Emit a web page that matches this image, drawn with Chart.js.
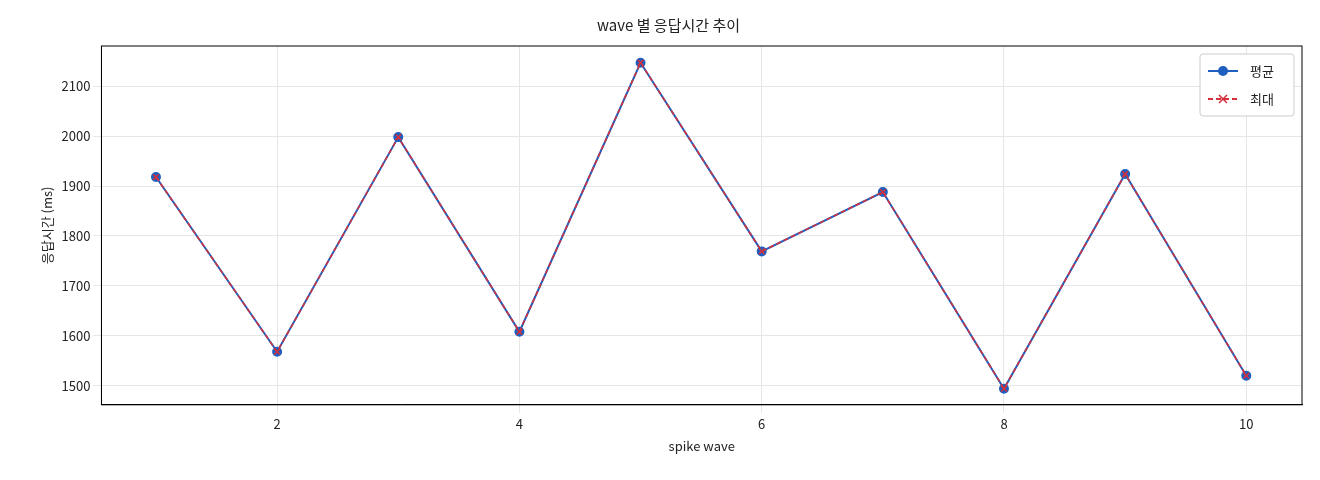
<!DOCTYPE html>
<html><head><meta charset="utf-8">
<script src="https://cdn.jsdelivr.net/npm/chart.js@4"></script>
<style>html,body{margin:0;padding:0;background:#fff}#w{width:1320px;height:480px}</style>
</head><body><div id="w"><canvas id="c"></canvas></div>
<script>
const waves=[1,2,3,4,5,6,7,8,9,10];
const avgValues=[1918,1568,1998,1608,2147,1769,1888,1494,1924,1520];
const maxValues=[1918,1568,1998,1608,2147,1769,1888,1494,1924,1520];
const yTicks=[1500,1600,1700,1800,1900,2000,2100];
const F="'Noto Sans CJK KR','DejaVu Sans',sans-serif";
Chart.defaults.font.family=F;Chart.defaults.color='#222';
new Chart(document.getElementById('c'),{type:'line',
data:{datasets:[
{label:'평균',order:2,data:waves.map((x,i)=>({x,y:avgValues[i]})),borderColor:'#1f5fbf',backgroundColor:'#1f5fbf',borderWidth:2,pointRadius:4,pointStyle:'circle'},
{label:'최대',order:1,data:waves.map((x,i)=>({x,y:maxValues[i]})),borderColor:'#d62f3a',backgroundColor:'#d62f3a',borderWidth:1.5,borderDash:[5,3],pointRadius:4,pointStyle:'crossRot',pointBorderWidth:1.5}
]},
options:{responsive:true,maintainAspectRatio:false,animation:false,
layout:{padding:{left:35,right:18,top:12,bottom:22}},
plugins:{title:{display:true,text:'wave 별 응답시간 추이',font:{size:15,weight:'normal'},padding:{top:4,bottom:12}},
legend:{display:false}},
scales:{x:{type:'linear',min:0.55,max:10.46,border:{color:'#000'},grid:{color:'#e6e6e6'},
ticks:{font:{size:13},callback:v=>v},afterBuildTicks:a=>{a.ticks=[2,4,6,8,10].map(v=>({value:v}))},
title:{display:true,text:'spike wave',font:{size:13}}},
y:{min:1461.7,max:2180.5,border:{color:'#000'},grid:{color:'#e6e6e6'},afterBuildTicks:a=>{a.ticks=yTicks.map(v=>({value:v}))},
ticks:{font:{size:13},callback:v=>String(v)},title:{display:true,text:'응답시간 (ms)',font:{size:13}}}}},
plugins:[{id:'box',afterDraw(ch){const a=ch.chartArea,c=ch.ctx;c.save();c.strokeStyle='#000';c.lineWidth=1;c.strokeRect(a.left,a.top,a.right-a.left,a.bottom-a.top);
const x=a.right-102,y=a.top+8;c.fillStyle='#fff';c.strokeStyle='#ccc';c.beginPath();c.roundRect(x,y,94,62,3);c.fill();c.stroke();
const items=[['평균','#1f5fbf',[],0],['최대','#d62f3a',[5,3],1]];c.font='13px '+F;c.textBaseline='middle';
items.forEach((it,i)=>{const yy=y+17+i*28;c.strokeStyle=it[1];c.lineWidth=2;c.setLineDash(it[2]);c.beginPath();c.moveTo(x+8,yy);c.lineTo(x+38,yy);c.stroke();c.setLineDash([]);
c.fillStyle=it[1];if(it[3]==0){c.beginPath();c.arc(x+23,yy,5,0,7);c.fill();}else{c.lineWidth=1.5;c.beginPath();c.moveTo(x+19,yy-4);c.lineTo(x+27,yy+4);c.moveTo(x+27,yy-4);c.lineTo(x+19,yy+4);c.stroke();}
c.fillStyle='#222';c.fillText(it[0],x+50,yy);});c.restore();}}]
});
</script></body></html>
